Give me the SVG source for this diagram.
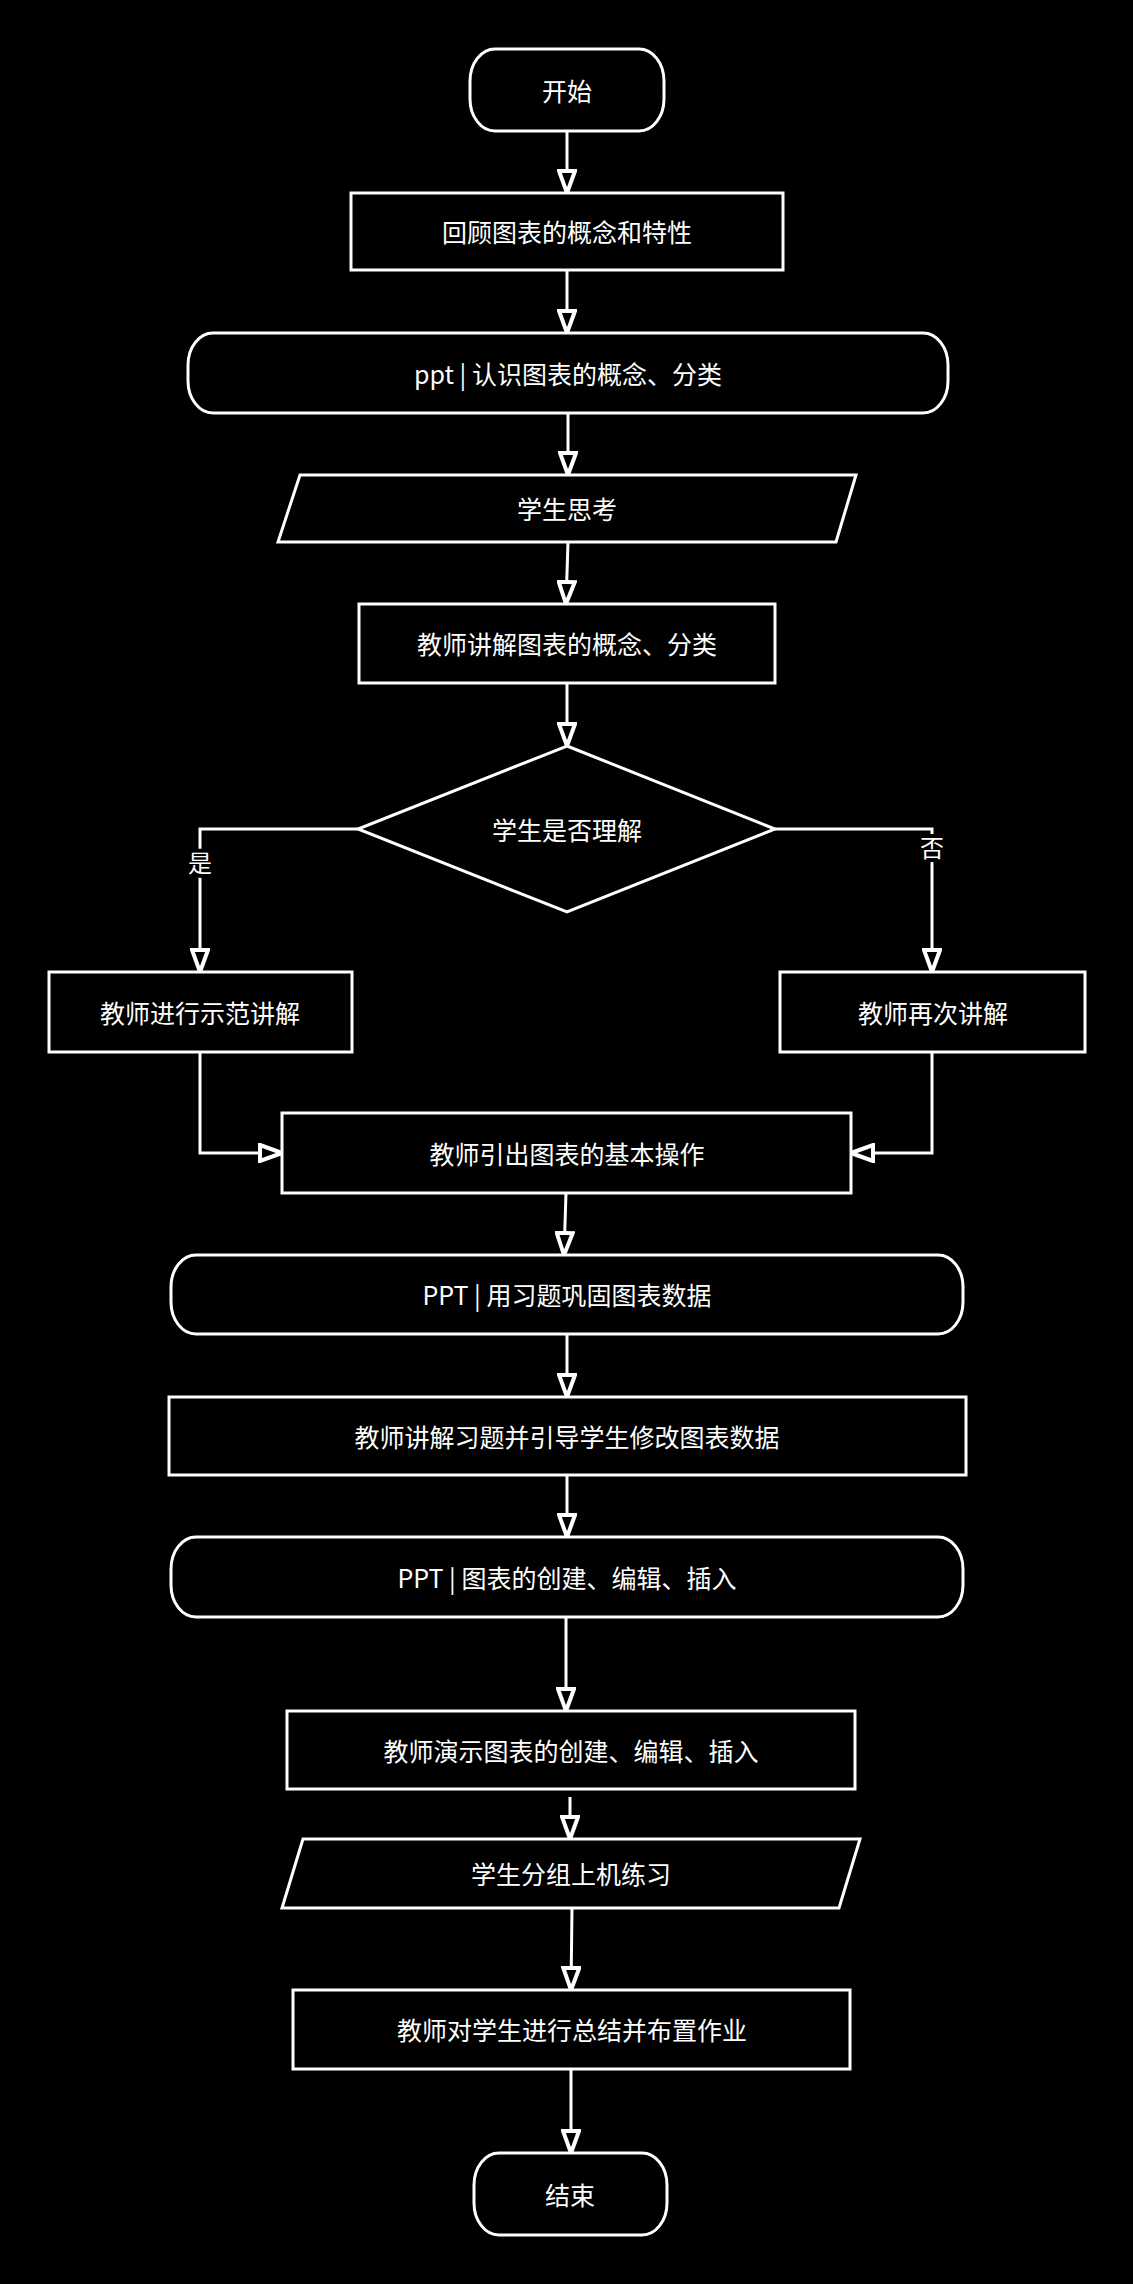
<svg xmlns="http://www.w3.org/2000/svg" width="1133" height="2284" viewBox="0 0 1133 2284">
<defs>
<style>
.shape{fill:#000;stroke:#fff;stroke-width:3}
.t{fill:#fff;font-family:"Noto Sans CJK SC","Noto Sans",sans-serif;font-size:25px;text-anchor:middle;dominant-baseline:central}
.lbl{fill:#fff;font-family:"Noto Sans CJK SC","Noto Sans",sans-serif;font-size:24px;text-anchor:middle;dominant-baseline:central;stroke:#000;stroke-width:8px;paint-order:stroke}
.c{fill:none;stroke:#fff;stroke-width:3}
</style>
<marker id="ah" viewBox="0 0 26 20" refX="24" refY="10" markerWidth="26" markerHeight="20" markerUnits="userSpaceOnUse" orient="auto">
<path d="M2,2 L24,10 L2,18 Z" fill="#000" stroke="#fff" stroke-width="4" stroke-linejoin="miter"/>
</marker>
</defs>
<rect width="1133" height="2284" fill="#000"/>
<g id="connectors">
<path class="c" d="M567,131 V193" marker-end="url(#ah)"/>
<path class="c" d="M567,270 V333" marker-end="url(#ah)"/>
<path class="c" d="M568,413 V475" marker-end="url(#ah)"/>
<path class="c" d="M568,542 L566,604" marker-end="url(#ah)"/>
<path class="c" d="M567,683 V746" marker-end="url(#ah)"/>
<path class="c" d="M358,829 H200 V972" marker-end="url(#ah)"/>
<path class="c" d="M775,829 H932 V972" marker-end="url(#ah)"/>
<path class="c" d="M200,1052 V1153 H282" marker-end="url(#ah)"/>
<path class="c" d="M932,1052 V1153 H851" marker-end="url(#ah)"/>
<path class="c" d="M566,1193 L564,1255" marker-end="url(#ah)"/>
<path class="c" d="M567,1334 V1397" marker-end="url(#ah)"/>
<path class="c" d="M567,1475 V1537" marker-end="url(#ah)"/>
<path class="c" d="M566,1617 V1711" marker-end="url(#ah)"/>
<path class="c" d="M570,1797 V1839" marker-end="url(#ah)"/>
<path class="c" d="M572,1908 L571,1990" marker-end="url(#ah)"/>
<path class="c" d="M571,2069 V2153" marker-end="url(#ah)"/>
<text class="lbl" x="200" y="861">是</text>
<text class="lbl" x="932" y="846">否</text>
</g>
<g id="start"><rect class="shape" x="470" y="49" width="194" height="82" rx="25" ry="32"/><text class="t" x="567" y="90">开始</text></g>
<g id="n1"><rect class="shape" x="351" y="193" width="432" height="77"/><text class="t" x="567" y="231">回顾图表的概念和特性</text></g>
<g id="n2"><rect class="shape" x="188" y="333" width="760" height="80" rx="25" ry="32"/><text class="t" x="568" y="373">ppt | 认识图表的概念、分类</text></g>
<g id="n3"><polygon class="shape" points="300,475 856,475 836,542 278,542"/><text class="t" x="567" y="508">学生思考</text></g>
<g id="n4"><rect class="shape" x="359" y="604" width="416" height="79"/><text class="t" x="567" y="643">教师讲解图表的概念、分类</text></g>
<g id="n5"><polygon class="shape" points="567,746 775,829 567,912 358,829"/><text class="t" x="567" y="829">学生是否理解</text></g>
<g id="n6"><rect class="shape" x="49" y="972" width="303" height="80"/><text class="t" x="200" y="1012">教师进行示范讲解</text></g>
<g id="n7"><rect class="shape" x="780" y="972" width="305" height="80"/><text class="t" x="933" y="1012">教师再次讲解</text></g>
<g id="n8"><rect class="shape" x="282" y="1113" width="569" height="80"/><text class="t" x="567" y="1153">教师引出图表的基本操作</text></g>
<g id="n9"><rect class="shape" x="171" y="1255" width="792" height="79" rx="25" ry="32"/><text class="t" x="567" y="1294">PPT | 用习题巩固图表数据</text></g>
<g id="n10"><rect class="shape" x="169" y="1397" width="797" height="78"/><text class="t" x="567" y="1436">教师讲解习题并引导学生修改图表数据</text></g>
<g id="n11"><rect class="shape" x="171" y="1537" width="792" height="80" rx="25" ry="32"/><text class="t" x="567" y="1577">PPT | 图表的创建、编辑、插入</text></g>
<g id="n12"><rect class="shape" x="287" y="1711" width="568" height="78"/><text class="t" x="571" y="1750">教师演示图表的创建、编辑、插入</text></g>
<g id="n13"><polygon class="shape" points="303,1839 860,1839 839,1908 282,1908"/><text class="t" x="571" y="1873">学生分组上机练习</text></g>
<g id="n14"><rect class="shape" x="293" y="1990" width="557" height="79"/><text class="t" x="572" y="2029">教师对学生进行总结并布置作业</text></g>
<g id="end"><rect class="shape" x="474" y="2153" width="193" height="82" rx="25" ry="32"/><text class="t" x="570" y="2194">结束</text></g>
</svg>
